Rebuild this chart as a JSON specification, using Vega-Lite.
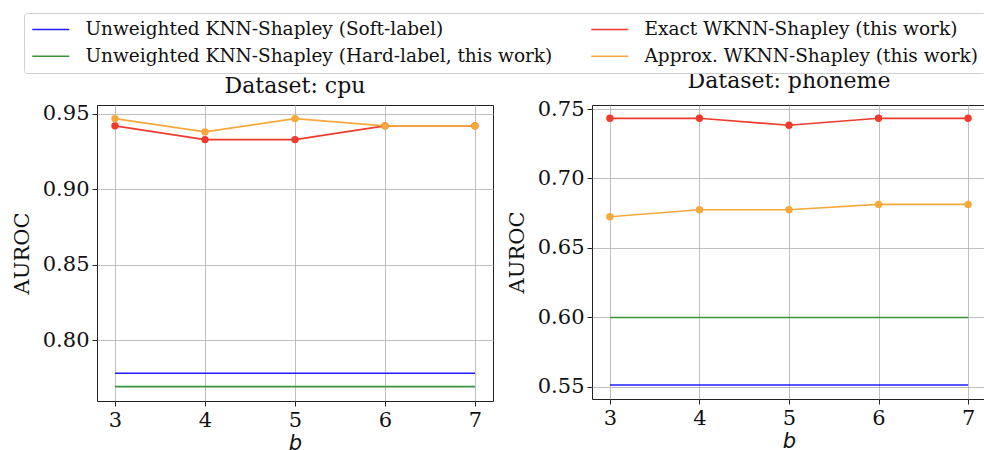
{
  "$schema": "https://vega.github.io/schema/vega-lite/v6.json",
  "padding": {"left": 10, "top": 12, "right": 0, "bottom": 0},
  "background": "white",
  "config": {
    "font": "DejaVu Serif",
    "view": {"stroke": "#222222", "strokeWidth": 1},
    "axis": {
      "labelFont": "DejaVu Serif",
      "labelFontSize": 21,
      "labelColor": "#111111",
      "titleFont": "DejaVu Serif",
      "titleFontSize": 21,
      "titleFontWeight": "normal",
      "titleColor": "#111111",
      "domain": false,
      "tickColor": "#222222",
      "tickSize": 5,
      "labelPadding": 3,
      "grid": true,
      "gridColor": "#b0b0b0",
      "gridOpacity": 0.8,
      "gridWidth": 1
    },
    "title": {"font": "DejaVu Serif", "fontSize": 22, "fontWeight": "normal", "color": "#111111", "offset": 5},
    "concat": {"spacing": 11}
  },
  "datasets": {
    "rows": [
      {"dataset": "cpu", "b": 3, "method": "Unweighted KNN-Shapley (Soft-label)", "auroc": 0.7782},
      {"dataset": "cpu", "b": 7, "method": "Unweighted KNN-Shapley (Soft-label)", "auroc": 0.7782},
      {"dataset": "cpu", "b": 3, "method": "Unweighted KNN-Shapley (Hard-label, this work)", "auroc": 0.7693},
      {"dataset": "cpu", "b": 7, "method": "Unweighted KNN-Shapley (Hard-label, this work)", "auroc": 0.7693},
      {"dataset": "cpu", "b": 3, "method": "Exact WKNN-Shapley (this work)", "auroc": 0.9419},
      {"dataset": "cpu", "b": 4, "method": "Exact WKNN-Shapley (this work)", "auroc": 0.9328},
      {"dataset": "cpu", "b": 5, "method": "Exact WKNN-Shapley (this work)", "auroc": 0.9328},
      {"dataset": "cpu", "b": 6, "method": "Exact WKNN-Shapley (this work)", "auroc": 0.9419},
      {"dataset": "cpu", "b": 7, "method": "Exact WKNN-Shapley (this work)", "auroc": 0.9419},
      {"dataset": "cpu", "b": 3, "method": "Approx. WKNN-Shapley (this work)", "auroc": 0.9467},
      {"dataset": "cpu", "b": 4, "method": "Approx. WKNN-Shapley (this work)", "auroc": 0.9379},
      {"dataset": "cpu", "b": 5, "method": "Approx. WKNN-Shapley (this work)", "auroc": 0.9467},
      {"dataset": "cpu", "b": 6, "method": "Approx. WKNN-Shapley (this work)", "auroc": 0.9419},
      {"dataset": "cpu", "b": 7, "method": "Approx. WKNN-Shapley (this work)", "auroc": 0.9419},
      {"dataset": "phoneme", "b": 3, "method": "Unweighted KNN-Shapley (Soft-label)", "auroc": 0.5512},
      {"dataset": "phoneme", "b": 7, "method": "Unweighted KNN-Shapley (Soft-label)", "auroc": 0.5512},
      {"dataset": "phoneme", "b": 3, "method": "Unweighted KNN-Shapley (Hard-label, this work)", "auroc": 0.5998},
      {"dataset": "phoneme", "b": 7, "method": "Unweighted KNN-Shapley (Hard-label, this work)", "auroc": 0.5998},
      {"dataset": "phoneme", "b": 3, "method": "Exact WKNN-Shapley (this work)", "auroc": 0.7433},
      {"dataset": "phoneme", "b": 4, "method": "Exact WKNN-Shapley (this work)", "auroc": 0.7433},
      {"dataset": "phoneme", "b": 5, "method": "Exact WKNN-Shapley (this work)", "auroc": 0.7383},
      {"dataset": "phoneme", "b": 6, "method": "Exact WKNN-Shapley (this work)", "auroc": 0.7433},
      {"dataset": "phoneme", "b": 7, "method": "Exact WKNN-Shapley (this work)", "auroc": 0.7433},
      {"dataset": "phoneme", "b": 3, "method": "Approx. WKNN-Shapley (this work)", "auroc": 0.6724},
      {"dataset": "phoneme", "b": 4, "method": "Approx. WKNN-Shapley (this work)", "auroc": 0.6774},
      {"dataset": "phoneme", "b": 5, "method": "Approx. WKNN-Shapley (this work)", "auroc": 0.6774},
      {"dataset": "phoneme", "b": 6, "method": "Approx. WKNN-Shapley (this work)", "auroc": 0.6813},
      {"dataset": "phoneme", "b": 7, "method": "Approx. WKNN-Shapley (this work)", "auroc": 0.6813}
    ]
  },
  "data": {"name": "rows"},
  "hconcat": [
    {
      "width": 396,
      "height": 296,
      "title": "Dataset: cpu",
      "transform": [{"filter": "datum.dataset === 'cpu'"}],
      "encoding": {
        "x": {"field": "b", "type": "quantitative", "scale": {"domain": [2.8, 7.2], "nice": false, "zero": false}, "axis": {"values": [3, 4, 5, 6, 7], "title": "b", "titleFont": "DejaVu Sans", "titleFontStyle": "italic", "titlePadding": 2}},
        "y": {"field": "auroc", "type": "quantitative", "scale": {"domain": [0.7598, 0.9557], "nice": false, "zero": false}, "axis": {"values": [0.8, 0.85, 0.9, 0.95], "format": ".2f", "title": "AUROC", "titlePadding": 10}},
        "color": {"field": "method", "type": "nominal", "sort": null,
          "scale": {"domain": ["Unweighted KNN-Shapley (Soft-label)", "Unweighted KNN-Shapley (Hard-label, this work)", "Exact WKNN-Shapley (this work)", "Approx. WKNN-Shapley (this work)"], "range": ["#1f1fff", "#3a923a", "#ef3b2c", "#f5a93c"]},
          "legend": {"title": null, "orient": "none", "legendX": -73, "legendY": -92, "columns": 2, "symbolType": "M-1,0H3.625", "symbolSize": 256, "symbolStrokeWidth": 1.5, "labelFont": "DejaVu Serif", "labelFontSize": 18.5, "labelColor": "#111111", "labelOffset": 36, "labelLimit": 600, "columnPadding": 35, "rowPadding": 8, "padding": 7, "strokeColor": "#d0d0d0", "cornerRadius": 3, "fillColor": "white"}}
      },
      "layer": [
        {"mark": {"type": "line", "strokeWidth": 1.6}},
        {"transform": [{"filter": "indexof(datum.method, 'WKNN') >= 0"}], "mark": {"type": "circle", "size": 55, "opacity": 1}}
      ]
    },
    {
      "width": 394,
      "height": 294,
      "title": "Dataset: phoneme",
      "transform": [{"filter": "datum.dataset === 'phoneme'"}],
      "encoding": {
        "x": {"field": "b", "type": "quantitative", "scale": {"domain": [2.8, 7.2], "nice": false, "zero": false}, "axis": {"values": [3, 4, 5, 6, 7], "title": "b", "titleFont": "DejaVu Sans", "titleFontStyle": "italic", "titlePadding": 2}},
        "y": {"field": "auroc", "type": "quantitative", "scale": {"domain": [0.5411, 0.7529], "nice": false, "zero": false}, "axis": {"values": [0.55, 0.6, 0.65, 0.7, 0.75], "format": ".2f", "title": "AUROC", "titlePadding": 10}},
        "color": {"field": "method", "type": "nominal", "sort": null,
          "scale": {"domain": ["Unweighted KNN-Shapley (Soft-label)", "Unweighted KNN-Shapley (Hard-label, this work)", "Exact WKNN-Shapley (this work)", "Approx. WKNN-Shapley (this work)"], "range": ["#1f1fff", "#3a923a", "#ef3b2c", "#f5a93c"]}}
      },
      "layer": [
        {"mark": {"type": "line", "strokeWidth": 1.6}},
        {"transform": [{"filter": "indexof(datum.method, 'WKNN') >= 0"}], "mark": {"type": "circle", "size": 55, "opacity": 1}}
      ]
    }
  ]
}
